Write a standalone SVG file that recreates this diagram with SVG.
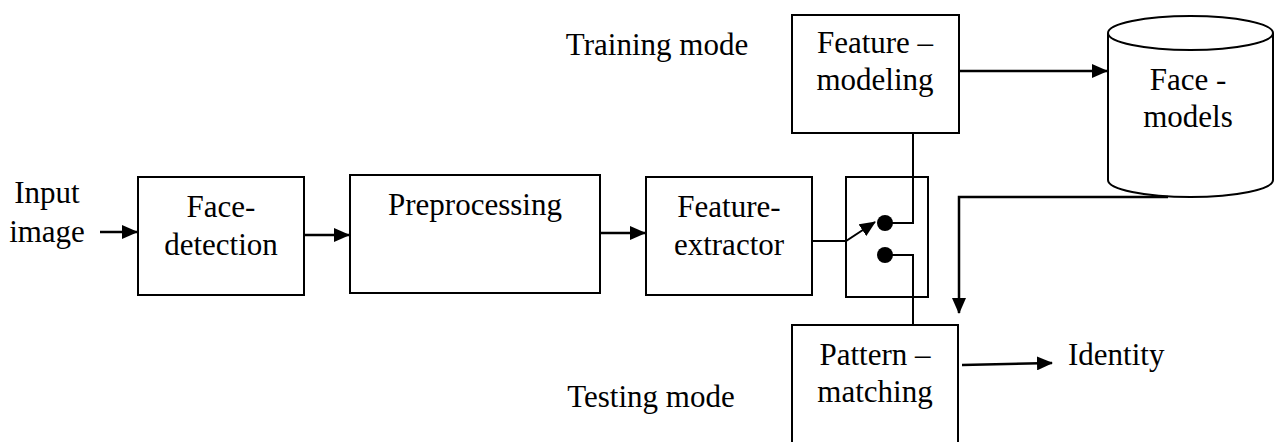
<svg xmlns="http://www.w3.org/2000/svg" width="1277" height="442" viewBox="0 0 1277 442">
<style>
text{font-family:"Liberation Serif","Times New Roman",serif;font-size:31px;fill:#000;text-anchor:middle}
.box{fill:#fff;stroke:#000;stroke-width:2}
.c{fill:none;stroke:#000;stroke-width:2.5}
.t{fill:none;stroke:#000;stroke-width:2}
</style>
<defs>
<marker id="ah" markerWidth="16" markerHeight="14" refX="15" refY="7" orient="auto" markerUnits="userSpaceOnUse">
<path d="M0,0 L16,7 L0,14 Z" fill="#000"/>
</marker>
</defs>
<rect width="1277" height="442" fill="#fff"/>
<g id="input">
<text x="47" y="203">Input</text>
<text x="47" y="242">image</text>
</g>
<g id="face-detection">
<rect class="box" x="138" y="177" width="166" height="118"/>
<text x="221" y="217">Face-</text>
<text x="221" y="255">detection</text>
</g>
<g id="preprocessing">
<rect class="box" x="350" y="175" width="250" height="118"/>
<text x="475" y="215">Preprocessing</text>
</g>
<g id="feature-extractor">
<rect class="box" x="646" y="177" width="166" height="118"/>
<text x="729" y="217">Feature-</text>
<text x="729" y="255">extractor</text>
</g>
<g id="switch">
<rect class="box" x="846" y="177" width="82" height="120"/>
<circle cx="885" cy="223" r="8" fill="#000"/>
<circle cx="885" cy="255" r="8" fill="#000"/>
</g>
<g id="feature-modeling">
<rect class="box" x="792" y="15" width="167" height="118"/>
<text x="875" y="53">Feature –</text>
<text x="875" y="90">modeling</text>
</g>
<g id="face-models">
<path class="box" d="M1108,33 L1108,180 A82.5,17 0 0 0 1273,180 L1273,33"/>
<ellipse class="box" cx="1190.5" cy="33" rx="82.5" ry="17"/>
<text x="1188" y="90">Face -</text>
<text x="1188" y="127">models</text>
</g>
<g id="pattern-matching">
<rect class="box" x="792" y="325" width="166" height="130"/>
<text x="875" y="365">Pattern –</text>
<text x="875" y="402">matching</text>
</g>
<g id="labels">
<text x="657" y="55">Training mode</text>
<text x="651" y="407">Testing mode</text>
<text x="1068" y="365" style="text-anchor:start">Identity</text>
</g>
<g id="connectors">
<line class="c" x1="100" y1="232" x2="137" y2="232" marker-end="url(#ah)"/>
<line class="c" x1="304" y1="235" x2="349" y2="235" marker-end="url(#ah)"/>
<line class="c" x1="600" y1="233" x2="645" y2="233" marker-end="url(#ah)"/>
<polyline class="t" points="812,241 846,241 875,222" marker-end="url(#ah)"/>
<polyline class="t" points="885,223 913,223 913,133"/>
<polyline class="t" points="885,255 913,255 913,325"/>
<line class="c" x1="959" y1="71" x2="1107" y2="71" marker-end="url(#ah)"/>
<polyline class="c" points="1168,197 959,197 959,313" marker-end="url(#ah)"/>
<line class="c" x1="962" y1="365" x2="1052" y2="363" marker-end="url(#ah)"/>
</g>
</svg>
